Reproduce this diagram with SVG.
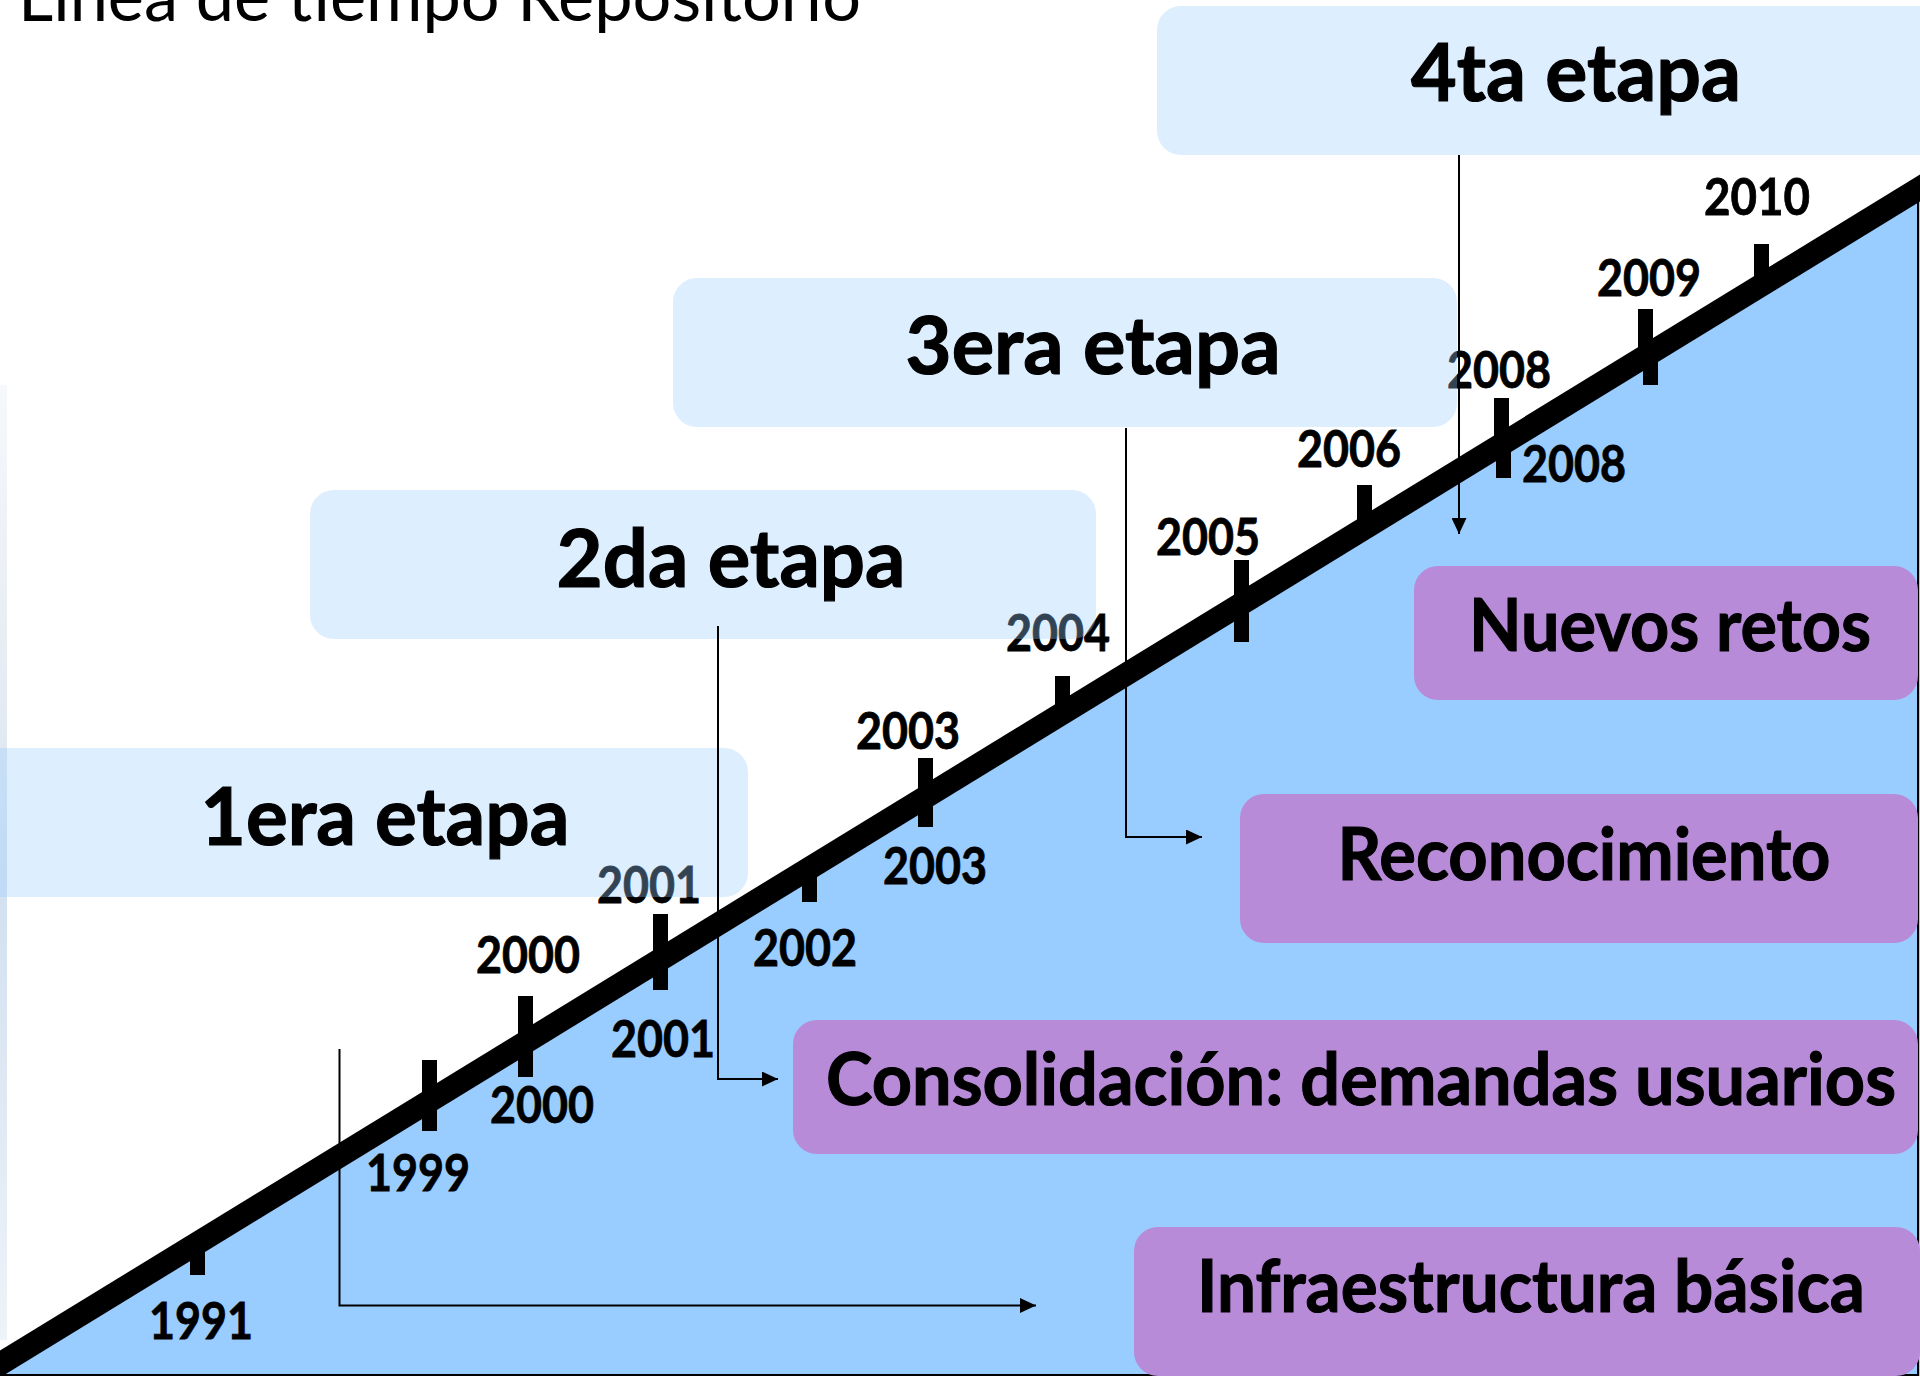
<svg xmlns="http://www.w3.org/2000/svg" width="1920" height="1376" viewBox="0 0 1920 1376">
  <defs>
    <style>
      .title { font-family: Lato, "Open Sans", "Liberation Sans", sans-serif; font-size: 70px; fill: #000; }
      .etapa-box { fill: #99CCFF; fill-opacity: 0.33; }
      .etapa-txt { font-family: Lato, "Open Sans", "Liberation Sans", sans-serif; font-weight: bold; font-size: 81px; fill: #000; stroke: #000; stroke-width: 1.2; text-anchor: middle; }
      .res-box { fill: #B88BD9; }
      .res-txt { font-family: Lato, "Open Sans", "Liberation Sans", sans-serif; font-weight: bold; font-size: 73px; fill: #000; stroke: #000; stroke-width: 1.1; text-anchor: middle; }
      .year { font-family: Lato, "Open Sans", "Liberation Sans", sans-serif; font-weight: bold; font-size: 51px; fill: #000; stroke: #000; stroke-width: 0.8; text-anchor: middle; }
      .tick { fill: #000; }
      .conn { fill: none; stroke: #000; stroke-width: 2; }
    </style>
    <marker id="arrow" markerUnits="userSpaceOnUse" markerWidth="16" markerHeight="15" refX="16" refY="7.5" orient="auto">
      <path d="M0,0 L16,7.5 L0,15 z" fill="#000"/>
    </marker>
    <linearGradient id="edge" x1="0" y1="0" x2="0" y2="1">
      <stop offset="0" stop-color="#F6F8FB"/>
      <stop offset="0.3" stop-color="#E6ECF3"/>
      <stop offset="0.55" stop-color="#D3E1F0"/>
      <stop offset="1" stop-color="#EEF3F8"/>
    </linearGradient>
  </defs>

  <rect x="0" y="0" width="1920" height="1376" fill="#FFFFFF"/>
  <rect x="0" y="385" width="7" height="955" fill="url(#edge)"/>

  <text class="title" x="18" y="21" textLength="843" lengthAdjust="spacingAndGlyphs">Linea de tiempo Repositorio</text>

  <g id="timeline">
    <polygon points="0,1364 1920,188 1920,1376 0,1376" fill="#99CCFF"/>
    <path d="M1918 188 V1375 H0" fill="none" stroke="#000" stroke-width="2"/>
    <path d="M-20 1376.3 L1940 175.8" stroke="#000" stroke-width="23" fill="none"/>
    <rect class="tick" x="190" y="1240" width="15" height="35"/>
    <rect class="tick" x="422" y="1060" width="15" height="71"/>
    <rect class="tick" x="518" y="996" width="15" height="81"/>
    <rect class="tick" x="653" y="914" width="15" height="76"/>
    <rect class="tick" x="802" y="866" width="15" height="36"/>
    <rect class="tick" x="918" y="758" width="15" height="69"/>
    <rect class="tick" x="1055" y="676" width="15" height="42"/>
    <rect class="tick" x="1234" y="560" width="15" height="82"/>
    <rect class="tick" x="1357" y="485" width="15" height="46"/>
    <rect class="tick" x="1494" y="398" width="15" height="50"/>
    <rect class="tick" x="1496" y="445" width="15" height="33"/>
    <rect class="tick" x="1638" y="309" width="15" height="50"/>
    <rect class="tick" x="1643" y="355" width="15" height="30"/>
    <rect class="tick" x="1754" y="244" width="15" height="44"/>
  </g>

  <g id="years">
    <text class="year" x="201" y="1339" textLength="104" lengthAdjust="spacingAndGlyphs">1991</text>
    <text class="year" x="418" y="1191" textLength="104" lengthAdjust="spacingAndGlyphs">1999</text>
    <text class="year" x="528" y="973" textLength="104" lengthAdjust="spacingAndGlyphs">2000</text>
    <text class="year" x="542" y="1123" textLength="104" lengthAdjust="spacingAndGlyphs">2000</text>
    <text class="year" x="649" y="903" textLength="104" lengthAdjust="spacingAndGlyphs">2001</text>
    <text class="year" x="663" y="1057" textLength="104" lengthAdjust="spacingAndGlyphs">2001</text>
    <text class="year" x="805" y="966" textLength="104" lengthAdjust="spacingAndGlyphs">2002</text>
    <text class="year" x="908" y="749" textLength="104" lengthAdjust="spacingAndGlyphs">2003</text>
    <text class="year" x="935" y="884" textLength="104" lengthAdjust="spacingAndGlyphs">2003</text>
    <text class="year" x="1058" y="651" textLength="104" lengthAdjust="spacingAndGlyphs">2004</text>
    <text class="year" x="1208" y="555" textLength="104" lengthAdjust="spacingAndGlyphs">2005</text>
    <text class="year" x="1349" y="467" textLength="104" lengthAdjust="spacingAndGlyphs">2006</text>
    <text class="year" x="1499" y="388" textLength="104" lengthAdjust="spacingAndGlyphs">2008</text>
    <text class="year" x="1574" y="482" textLength="104" lengthAdjust="spacingAndGlyphs">2008</text>
    <text class="year" x="1649" y="296" textLength="104" lengthAdjust="spacingAndGlyphs">2009</text>
    <text class="year" x="1757" y="215" textLength="106" lengthAdjust="spacingAndGlyphs">2010</text>
  </g>

  <g id="etapa1">
    <rect class="etapa-box" x="-38" y="748" width="786" height="149" rx="24" ry="24"/>
    <text class="etapa-txt" x="385" y="845" textLength="369" lengthAdjust="spacingAndGlyphs">1era etapa</text>
  </g>
  <g id="etapa2">
    <rect class="etapa-box" x="310" y="490" width="786" height="149" rx="24" ry="24"/>
    <text class="etapa-txt" x="731" y="587" textLength="349" lengthAdjust="spacingAndGlyphs">2da etapa</text>
  </g>
  <g id="etapa3">
    <rect class="etapa-box" x="673" y="278" width="784" height="149" rx="24" ry="24"/>
    <text class="etapa-txt" x="1093" y="374" textLength="375" lengthAdjust="spacingAndGlyphs">3era etapa</text>
  </g>
  <g id="etapa4">
    <rect class="etapa-box" x="1157" y="6" width="786" height="149" rx="24" ry="24"/>
    <text class="etapa-txt" x="1576" y="101" textLength="330" lengthAdjust="spacingAndGlyphs">4ta etapa</text>
  </g>

  <g id="nuevos-retos">
    <rect class="res-box" x="1414" y="566" width="504" height="134" rx="24" ry="24"/>
    <text class="res-txt" x="1670" y="651" textLength="402" lengthAdjust="spacingAndGlyphs">Nuevos retos</text>
  </g>
  <g id="reconocimiento">
    <rect class="res-box" x="1240" y="794" width="678" height="149" rx="24" ry="24"/>
    <text class="res-txt" x="1584" y="880" textLength="493" lengthAdjust="spacingAndGlyphs">Reconocimiento</text>
  </g>
  <g id="consolidacion">
    <rect class="res-box" x="793" y="1020" width="1125" height="134" rx="24" ry="24"/>
    <text class="res-txt" x="1361" y="1105" textLength="1070" lengthAdjust="spacingAndGlyphs">Consolidación: demandas usuarios</text>
  </g>
  <g id="infraestructura">
    <rect class="res-box" x="1134" y="1227" width="786" height="149" rx="24" ry="24"/>
    <text class="res-txt" x="1531" y="1312" textLength="668" lengthAdjust="spacingAndGlyphs">Infraestructura básica</text>
  </g>

  <g id="connectors">
    <path class="conn" d="M1459 155 V534" marker-end="url(#arrow)"/>
    <path class="conn" d="M1126 428 V837 H1202" marker-end="url(#arrow)"/>
    <path class="conn" d="M718 626 V1079 H778" marker-end="url(#arrow)"/>
    <path class="conn" d="M339.5 1049 V1305.5 H1036" marker-end="url(#arrow)"/>
  </g>
</svg>
